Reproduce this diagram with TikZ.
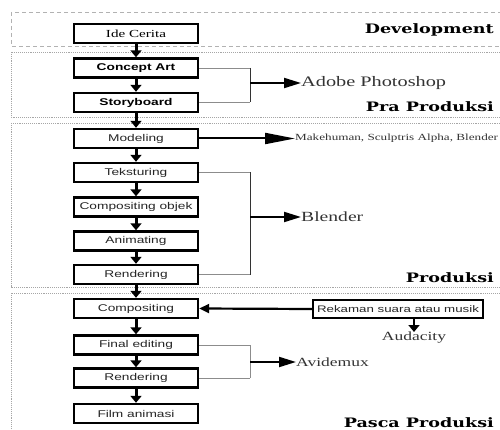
\documentclass[tikz,border=0pt]{standalone}
\usepackage{fontspec}
\setmainfont{Liberation Serif}[FakeStretch=1.4]
\newfontfamily\bsans{Liberation Sans}[FakeStretch=1.4]
\newfontfamily\secfont{DejaVu Serif}[FakeStretch=1.35]
\usetikzlibrary{arrows.meta}
\begin{document}
\begin{tikzpicture}[x=1pt,y=-1pt,
  stepbox/.style={draw=black,line width=2.4pt,fill=white,minimum width=124pt,minimum height=19pt,inner sep=0pt,
    font=\bsans\fontsize{9.8}{10}\selectfont,text=black!85},
  flow/.style={line width=3pt,-{Triangle[width=11pt,length=7pt]}},
  toolarrow/.style={line width=2pt,-{Triangle[width=10pt,length=17pt]}},
  toolarrowlong/.style={line width=2pt,-{Triangle[width=11pt,length=30pt]}},
  brk/.style={draw=black!45,line width=0.7pt},
  brkv/.style={draw=black!80,line width=0.8pt},
  tl/.style={anchor=west,inner sep=0pt,text=black!80},
  sec/.style={anchor=east,inner sep=0pt,font=\secfont\bfseries\fontsize{13}{15}\selectfont},
  sectionbox/.style={draw=black!35,line width=0.9pt,densely dotted},
]
\useasboundingbox (0,0) rectangle (500,430);
\clip (0,0) rectangle (500,430);
% section frames
\draw[sectionbox,draw=black!30,dash pattern=on 4pt off 3pt] (11,12) rectangle (520,46);
\draw[sectionbox] (11,52) rectangle (520,117);
\draw[sectionbox] (11,123) rectangle (520,287);
\draw[sectionbox] (11,293) rectangle (520,450);
% section labels
\node[sec] (lDev) at (494,30) {Development};
\node[sec] (lPra) at (494,107) {Pra Produksi};
\node[sec] (lPro) at (494,278) {Produksi};
\node[sec] (lPas) at (494,423) {Pasca Produksi};
% main boxes
\node[stepbox,font=\rmfamily\fontsize{10.8}{12}\selectfont,text=black] (ide) at (136,33.5) {Ide Cerita};
\node[stepbox,font=\bsans\bfseries\fontsize{9.8}{10}\selectfont,text=black] (ca) at (136,68) {Concept Art};
\node[stepbox,font=\bsans\bfseries\fontsize{9.8}{10}\selectfont,text=black] (sb) at (136,102.5) {Storyboard};
\node[stepbox] (mod) at (136,138.5) {Modeling};
\node[stepbox] (tek) at (136,172.5) {Teksturing};
\node[stepbox] (cob) at (136,207) {Compositing objek};
\node[stepbox] (ani) at (136,241) {Animating};
\node[stepbox] (ren) at (136,274.5) {Rendering};
\node[stepbox] (com) at (136,308.5) {Compositing};
\node[stepbox] (fin) at (136,345) {Final editing};
\node[stepbox] (ren2) at (136,378) {Rendering};
\node[stepbox] (film) at (136,413.5) {Film animasi};
\node[stepbox,minimum width=170pt,minimum height=18pt,font=\bsans\fontsize{9.5}{10}\selectfont] (rek) at (398,309) {Rekaman suara atau musik};
% flow arrows
\draw[flow] (ide) -- (ca);
\draw[flow] (ca) -- (sb);
\draw[flow] (sb) -- (mod);
\draw[flow] (mod) -- (tek);
\draw[flow] (tek) -- (cob);
\draw[flow] (cob) -- (ani);
\draw[flow] (ani) -- (ren);
\draw[flow] (ren) -- (com);
\draw[flow] (com) -- (fin);
\draw[flow] (fin) -- (ren2);
\draw[flow] (ren2) -- (film);
% tool labels
\node[tl,font=\rmfamily\fontsize{14.5}{16}\selectfont] (ps) at (301,83) {Adobe Photoshop};
\node[tl,font=\rmfamily\fontsize{9.4}{11}\selectfont] (mk) at (295,138.5) {Makehuman, Sculptris Alpha, Blender};
\node[tl,font=\rmfamily\fontsize{14}{16}\selectfont] (bl) at (301,217) {Blender};
\node[tl,font=\rmfamily\fontsize{12.5}{14}\selectfont] (av) at (296,362) {Avidemux};
\node[tl,anchor=north,font=\rmfamily\fontsize{12.5}{14}\selectfont] (au) at (414,332) {Audacity};
% brackets
\coordinate (b1) at (250,83);
\draw[brk] (ca.east) -- (ca.east -| b1);
\draw[brk] (sb.east) -- (sb.east -| b1);
\draw[brkv] (ca.east -| b1) -- (sb.east -| b1);
\draw[toolarrow] (b1) -- (ps.west);
\draw[toolarrowlong] (mod.east) -- (mk.west);
\coordinate (b2) at (250,217);
\draw[brk] (tek.east) -- (tek.east -| b2);
\draw[brk] (ren.east) -- (ren.east -| b2);
\draw[brkv] (tek.east -| b2) -- (ren.east -| b2);
\draw[toolarrow] (b2) -- (bl.west);
\coordinate (b3) at (250,362);
\draw[brk] (fin.east) -- (fin.east -| b3);
\draw[brk] (ren2.east) -- (ren2.east -| b3);
\draw[brk] (fin.east -| b3) -- (ren2.east -| b3);
\draw[toolarrow] (b3) -- (av.west);
% post production arrows
\draw[line width=2.2pt,-{Triangle[width=9pt,length=10pt]}] (rek.west) -- (com.east);
\draw[line width=2.6pt,-{Triangle[width=11pt,length=7pt]}] (rek.south -| au.north) -- (au.north);
\end{tikzpicture}
\end{document}
